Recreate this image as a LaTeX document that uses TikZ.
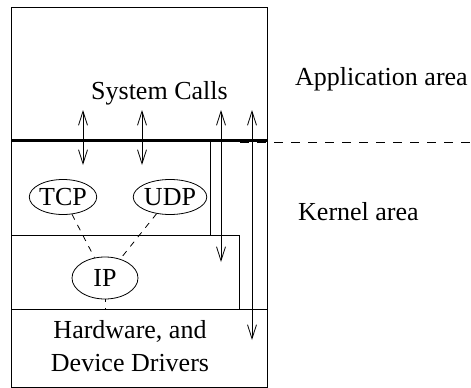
\documentclass[tikz,border=0pt]{standalone}
\usepackage{fontspec}
\setmainfont{Liberation Serif}
\usetikzlibrary{arrows.meta,shapes.geometric}
\tikzset{
  thinline/.style={line width=0.8pt},
  lbl/.style={inner sep=0pt, anchor=base west, font=\fontsize{26}{30}\selectfont},
  proto/.style={draw, ellipse, thinline, inner sep=0pt, font=\fontsize{26}{30}\selectfont},
  dbl/.style={thinline, {Straight Barb[length=14pt,width=9pt]}-{Straight Barb[length=14pt,width=9pt]}},
  sep/.style={thinline, dash pattern=on 6pt off 6pt},
}
\begin{document}
\begin{tikzpicture}[x=1pt,y=-1pt]
\useasboundingbox (0,0) rectangle (471,388);
% outer box
\draw[thinline] (11,7) rectangle (267,387);
% layers
\draw[thinline] (210,140) -- (210,235);
\draw[thinline] (11,235) -- (239,235) -- (239,309);
\draw[thinline] (11,309) -- (267,309);
% boundary
\draw[thinline, dash pattern=on 9pt off 8pt] (240,142) -- (471,142);
\draw[line width=3pt] (11,140) -- (267,140);
% texts
\node[lbl] (sys) at (91,99) {System Calls};
\node[lbl] (app) at (295,85) {Application area};
\node[lbl] (kern) at (298,220) {Kernel area};
\node[inner sep=0pt, anchor=base, font=\fontsize{26}{30}\selectfont] (hw1) at (130,338) {Hardware, and};
\node[inner sep=0pt, anchor=base, font=\fontsize{26}{30}\selectfont] (hw2) at (130,371) {Device Drivers};
% protocols
\node[proto, minimum width=67pt, minimum height=35pt] (tcp) at (63,197) {TCP};
\node[proto, minimum width=67pt, minimum height=35pt] (udp) at (170,197) {UDP};
\node[proto, minimum width=66pt, minimum height=42pt] (ip) at (105,278) {IP};
\coordinate (hwline) at (105,309);
\draw[sep] (tcp) -- (ip);
\draw[sep] (udp) -- (ip);
\draw[thinline, dash pattern=on 6pt off 6pt, dash phase=3pt] (ip.south) -- (hwline);
% arrows
\coordinate (a1t) at (83,110); \coordinate (a1b) at (83,165);
\coordinate (a2t) at (142,110); \coordinate (a2b) at (142,165);
\coordinate (a3t) at (221,110); \coordinate (a3b) at (221,262);
\coordinate (a4t) at (252,110); \coordinate (a4b) at (252,340);
\draw[dbl] (a1t) -- (a1b);
\draw[dbl] (a2t) -- (a2b);
\draw[dbl] (a3t) -- (a3b);
\draw[dbl] (a4t) -- (a4b);
\end{tikzpicture}
\end{document}
